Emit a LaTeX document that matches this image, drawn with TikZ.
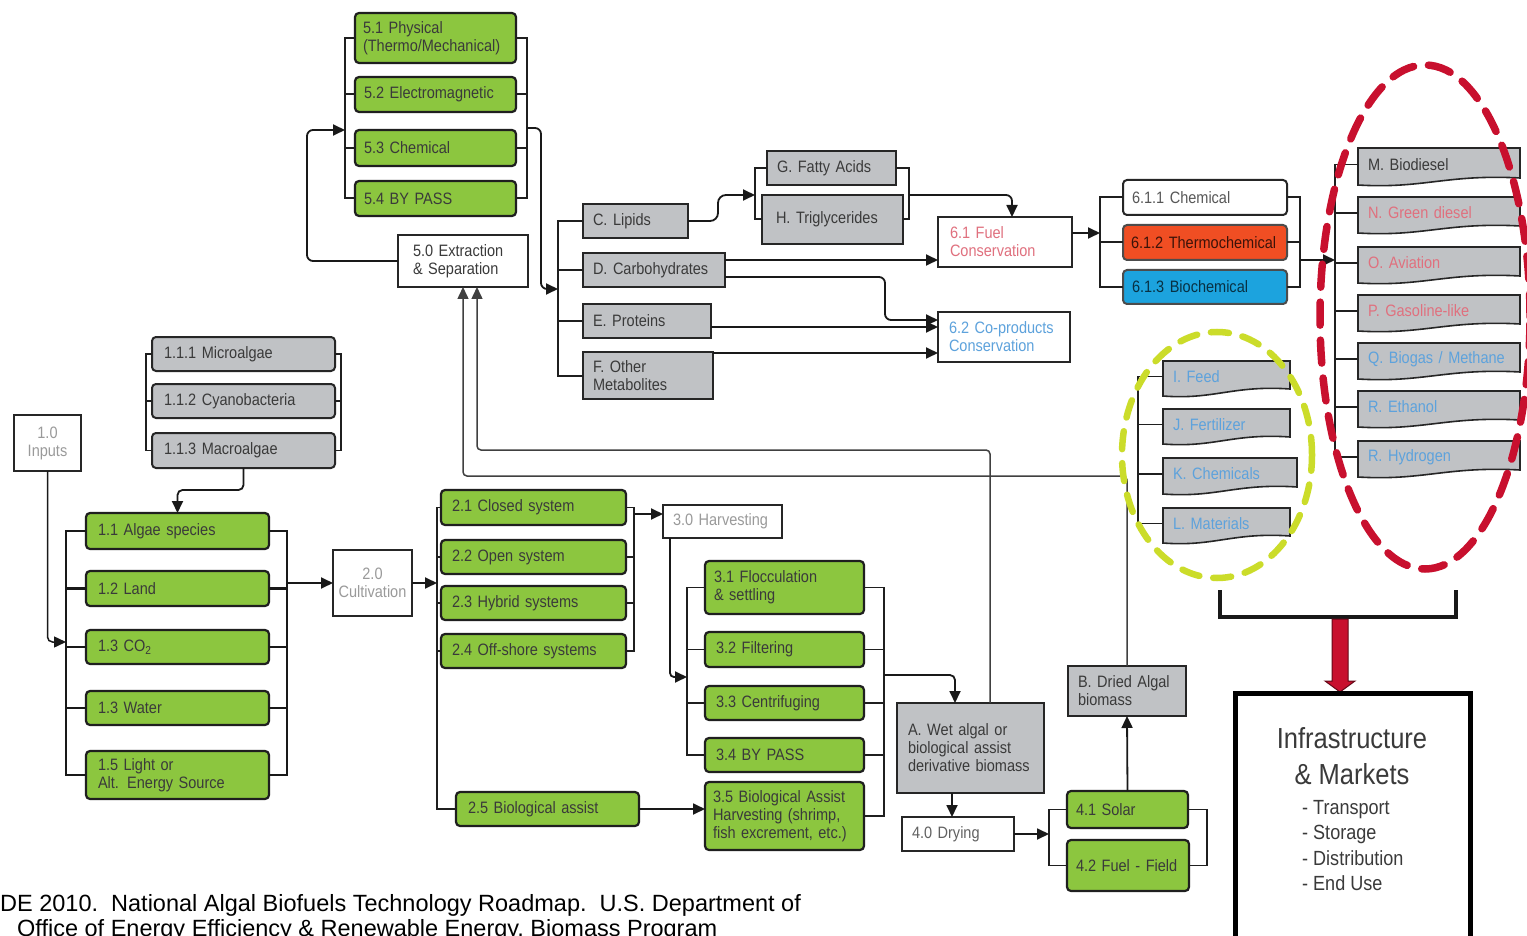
\documentclass[tikz,border=0pt]{standalone}
\usepackage{fontspec}
\setmainfont{Liberation Sans}
\newfontfamily\dfont{Liberation Sans}[FakeStretch=0.88]
\usetikzlibrary{arrows.meta,calc}
\definecolor{greenF}{HTML}{8CC63F}
\definecolor{grayF}{HTML}{C0C2C5}
\definecolor{pinkT}{HTML}{E0707E}
\definecolor{blueT}{HTML}{5DA2DC}
\definecolor{orangeF}{HTML}{F04E23}
\definecolor{cyanF}{HTML}{1CA3DE}
\definecolor{redD}{HTML}{C8102E}
\definecolor{yelD}{HTML}{CBDC2A}
\definecolor{lightT}{HTML}{9A9A9A}
\definecolor{darkT}{HTML}{3A3A3A}
\newcommand\df{\dfont\fontsize{16.5}{18}\selectfont}
\newcommand\bx[8]{%
  \pgfmathsetmacro\bxW{#4-#2}%
  \pgfmathsetmacro\bxH{#5-#3}%
  \pgfmathsetmacro\bxT{#4-#2-2*#7}%
  \node[anchor=north west, outer sep=0pt, inner xsep=#7pt, inner ysep=0pt,
        minimum width=\bxW pt, minimum height=\bxH pt, text width=\bxT pt,
        align=left, font=\df, #6] (#1) at (#2,#3) {#8};}
\newcommand\dc[7]{%
  \filldraw[fill=grayF, draw=black!85, line width=1.6pt]
    (#2,#3) -- (#4,#3) -- (#4,{#5-7})
    .. controls ({#2+0.55*(#4-#2)},{#5-11}) and ({#2+0.4*(#4-#2)},{#5+4}) .. (#2,#5) -- cycle;
  \bx{#1}{#2}{#3}{#4}{#5-4}{text=#6}{10}{#7}}
\begin{document}
\begin{tikzpicture}[x=1pt,y=-1pt,
  gbox/.style={draw=black!88, fill=greenF, rounded corners=4pt, line width=2.2pt, text=darkT},
  gybox/.style={draw=black!85, fill=grayF, line width=2pt, text=darkT},
  gyrbox/.style={gybox, rounded corners=4pt},
  wbox/.style={draw=black!85, fill=white, line width=1.6pt},
  wrbox/.style={wbox, rounded corners=4pt, line width=2pt, text=darkT!85},
  orbox/.style={draw=black!70, fill=orangeF, rounded corners=4pt, line width=2pt, text=black!75!orangeF},
  cybox/.style={draw=black!70, fill=cyanF, rounded corners=4pt, line width=2pt, text=black!70!cyanF},
  brk/.style={draw=black!88, line width=2pt},
  brk2/.style={draw=black!88, line width=1.7pt},
  brk3/.style={draw=black!90, line width=2.6pt},
  arr/.style={draw=black!90, line width=1.8pt, -{Triangle[length=12pt,width=11pt]}},
  arrL/.style={draw=black!75, line width=1.5pt, -{Triangle[length=12pt,width=11pt]}}]
\useasboundingbox (0,0) rectangle (1527,936);
\fill[white] (0,0) rectangle (1527,936);
\clip (0,0) rectangle (1527,936);

% ---- group 5
\bx{n51}{355}{13}{516}{63}{gbox}{8}{5.1 Physical\\(Thermo/Mechanical)}
\bx{n52}{355}{77}{516}{112}{gbox}{9}{5.2 Electromagnetic}
\bx{n53}{355}{130}{516}{166}{gbox}{9}{5.3 Chemical}
\bx{n54}{355}{181}{516}{216}{gbox}{9}{5.4 BY PASS}
\draw[brk] (n51.west) -- ++(-10,0) |- (n54.west);
\foreach \n in {n52,n53} \draw[brk] (\n.west) -- ++(-10,0);
\draw[brk] (n51.east) -- ++(11,0) |- (n54.east);
\foreach \n in {n52,n53} \draw[brk] (\n.east) -- ++(11,0);
\bx{n50}{398}{235}{528}{287}{wbox, text=darkT}{15}{5.0 Extraction\\\& Separation}
\coordinate (b5in) at (345,130);
\coordinate (b5out) at (527,128);
\coordinate (bCin) at (558,289);
\draw[arr, rounded corners=6pt] (n50.west) -- ++(-91,0) |- (b5in);
\draw[arr, rounded corners=6pt] (b5out) -- ++(14,0) |- (bCin);

% ---- C-F
\bx{nC}{583}{204}{688}{238}{gybox}{10}{C. Lipids}
\bx{nD}{583}{253}{725}{287}{gybox}{10}{D. Carbohydrates}
\bx{nE}{583}{304}{711}{338}{gybox}{10}{E. Proteins}
\bx{nF}{583}{352}{713}{399}{gybox}{10}{F. Other\\Metabolites}
\draw[brk] (nC.west) -- ++(-25,0) |- (nF.west);
\foreach \n in {nD,nE} \draw[brk] (\n.west) -- ++(-25,0);

% ---- G/H
\bx{nG}{767}{151}{896}{185}{gybox}{10}{G. Fatty Acids}
\bx{nH}{762}{195}{903}{244}{gybox}{14}{H. Triglycerides}
\coordinate (bGin) at (755,195);
\coordinate (bGout) at (909,195);
\draw[brk] (nG.west) -- (bGin |- nG.west) |- (nH.west);
\draw[arr, rounded corners=8pt] (nC.east) -- ++(30,0) |- (bGin);
\draw[brk] (nG.east) -- (bGout |- nG.east) -- (bGout |- nH.east) -- (nH.east);

% ---- 6.1 / 6.2
\bx{n61}{938}{217}{1072}{267}{wbox, text=pinkT}{12}{6.1 Fuel\\Conservation}
\bx{n62}{938}{312}{1070}{362}{wbox, text=blueT}{11}{6.2 Co-products\\Conservation}
\draw[arr, rounded corners=6pt] (bGout) -| ([xshift=7pt]n61.north);
\draw[arr] ([yshift=10pt]nD.east) coordinate (d1) -- (d1 -| n61.west);
\draw[arr, rounded corners=6pt] ([yshift=-7pt]nD.east) -- ++(160,0) |- ([yshift=17pt]n62.west);
\draw[arr] ([yshift=-6pt]nE.east) coordinate (e1) -- (e1 -| n62.west);
\draw[arr] ([yshift=-1pt]nF.north east) coordinate (f1) -- (f1 -| n62.west);

% ---- 6.1.x
\coordinate (b61in) at (1100,233);
\coordinate (b61out) at (1300,260);
\coordinate (bMin) at (1335,260);
\draw[arr] ([yshift=9pt]n61.east) -- (b61in);
\bx{n611}{1123}{180}{1287}{215}{wrbox}{9}{6.1.1 Chemical}
\bx{n612}{1123}{225}{1287}{260}{orbox}{8}{6.1.2 Thermochemical}
\bx{n613}{1123}{270}{1287}{304}{cybox}{9}{6.1.3 Biochemical}
\draw[brk] (n611.west) -- (b61in |- n611.west) |- (n613.west);
\draw[brk] (n612.west) -- (b61in |- n612.west);
\draw[brk] (n611.east) -- (b61out |- n611.east) |- (n613.east);
\draw[brk] (n612.east) -- (b61out |- n612.east);
\draw[arr] (b61out) -- (bMin);

% ---- M-R
\dc{nM}{1358}{148}{1520}{185}{darkT}{M. Biodiesel}
\dc{nN}{1358}{197}{1520}{233}{pinkT}{N. Green diesel}
\dc{nO}{1358}{247}{1520}{283}{pinkT}{O. Aviation}
\dc{nP}{1358}{295}{1520}{331}{pinkT}{P. Gasoline-like}
\dc{nQ}{1358}{343}{1520}{379}{blueT}{Q. Biogas / Methane}
\dc{nR}{1358}{391}{1520}{427}{blueT}{R. Ethanol}
\dc{nS}{1358}{441}{1520}{477}{blueT}{R. Hydrogen}
\draw[brk2] (nM.west) -- (bMin |- nM.west) |- (nS.west);
\foreach \n in {nN,nO,nP,nQ,nR} \draw[brk2] (\n.west) -- (bMin |- \n.west);

% ---- I-L
\coordinate (bI) at (1138,400);
\dc{nI}{1163}{361}{1290}{396}{blueT}{I. Feed}
\dc{nJ}{1163}{409}{1290}{444}{blueT}{J. Fertilizer}
\dc{nK}{1163}{458}{1297}{494}{blueT}{K. Chemicals}
\dc{nL}{1163}{508}{1290}{543}{blueT}{L. Materials}
\draw[brk2] (nI.west) -- (bI |- nI.west) |- (nL.west);
\foreach \n in {nJ,nK} \draw[brk2] (\n.west) -- (bI |- \n.west);

% ---- bracket + red arrow + infrastructure
\coordinate (kL) at (1220,590);
\coordinate (kR) at (1456,590);
\draw[line width=4pt, draw=black!90] (kL) -- ++(0,27) -| (kR);
\filldraw[fill=redD, draw=black!50!redD, line width=1pt]
  (1332,619) -- (1348,619) -- (1348,681) -- (1355,681) -- (1340,692) -- (1325,681) -- (1332,681) -- cycle;
\bx{nInf}{1235}{693}{1470}{960}{draw=black, line width=5pt}{0}{}
\node[font=\dfont\fontsize{29}{36}\selectfont, text=darkT, align=center] (tInf) at (1352,756) {Infrastructure\\\& Markets};
\node[font=\dfont\fontsize{20.5}{25.5}\selectfont, text=darkT, align=left, anchor=north west, inner sep=0pt] (lInf) at (1302,800) {- Transport\\- Storage\\- Distribution\\- End Use};

% ---- left section
\bx{n10}{14}{415}{81}{471}{wbox, text=lightT, align=center}{3}{1.0\\Inputs}
\coordinate (b1in) at (66,642);
\draw[arr, line width=1.5pt, rounded corners=5pt] (n10.south) |- (b1in);
\bx{n111}{152}{337}{335}{371}{gyrbox}{12}{1.1.1 Microalgae}
\bx{n112}{152}{384}{335}{418}{gyrbox}{12}{1.1.2 Cyanobacteria}
\bx{n113}{152}{433}{335}{468}{gyrbox}{12}{1.1.3 Macroalgae}
\draw[brk2] (n111.west) -- ++(-6,0) |- (n113.west);
\draw[brk2] (n112.west) -- ++(-6,0);
\draw[brk2] (n111.east) -- ++(6,0) |- (n113.east);
\draw[brk2] (n112.east) -- ++(6,0);
\bx{n11}{86}{513}{269}{549}{gbox}{12}{1.1 Algae species}
\bx{n12}{86}{571}{269}{606}{gbox}{12}{1.2 Land}
\bx{n13}{86}{630}{269}{664}{gbox}{12}{1.3 CO\textsubscript{2}}
\bx{n14}{86}{691}{269}{725}{gbox}{12}{1.3 Water}
\bx{n15}{86}{751}{269}{799}{gbox}{12}{1.5 Light or\\Alt. Energy Source}
\draw[arr, rounded corners=5pt] (n113.south) -- ++(0,22) -| (n11.north);
\coordinate (b1out) at (287,583);
\draw[brk3] (n11.west) -- (b1in |- n11.west) |- (n15.west);
\foreach \n in {n12,n13,n14} \draw[brk3] (\n.west) -- (b1in |- \n.west);
\draw[brk3] (n11.east) -- (b1out |- n11.east) |- (n15.east);
\foreach \n in {n12,n13,n14} \draw[brk3] (\n.east) -- (b1out |- \n.east);

% ---- cultivation
\bx{n20}{333}{550}{412}{616}{wbox, text=lightT, align=center}{3}{2.0\\Cultivation}
\draw[arr] (b1out) -- (b1out -| n20.west);
\coordinate (b2in) at (437,583);
\draw[arr] (n20.east) -- (b2in);
\bx{n21}{441}{490}{626}{525}{gbox}{11}{2.1 Closed system}
\bx{n22}{441}{540}{626}{574}{gbox}{11}{2.2 Open system}
\bx{n23}{441}{586}{626}{620}{gbox}{11}{2.3 Hybrid systems}
\bx{n24}{441}{634}{626}{668}{gbox}{11}{2.4 Off-shore systems}
\bx{n25}{456}{792}{639}{826}{gbox}{12}{2.5 Biological assist}
\draw[brk2] (n21.west) -- (b2in |- n21.west) |- (n25.west);
\foreach \n in {n22,n23,n24} \draw[brk2] (\n.west) -- (b2in |- \n.west);
\coordinate (b2out) at (634,514);
\draw[brk2] (n21.east) -- (b2out |- n21.east) |- (n24.east);
\foreach \n in {n22,n23} \draw[brk2] (\n.east) -- (b2out |- \n.east);

% ---- harvesting
\bx{n30}{663}{505}{782}{538}{wbox, text=lightT}{10}{3.0 Harvesting}
\draw[arr] (b2out) -- (b2out -| n30.west);
\coordinate (b3in) at (687,677);
\draw[arr, rounded corners=4pt] ([xshift=7pt]n30.south west) |- (b3in);
\bx{n31}{705}{561}{864}{614}{gbox}{9}{3.1 Flocculation\\\& settling}
\bx{n32}{705}{632}{864}{667}{gbox}{11}{3.2 Filtering}
\bx{n33}{705}{686}{864}{720}{gbox}{11}{3.3 Centrifuging}
\bx{n34}{705}{738}{864}{772}{gbox}{11}{3.4 BY PASS}
\bx{n35}{705}{782}{864}{850}{gbox}{8}{3.5 Biological Assist\\Harvesting (shrimp,\\fish excrement, etc.)}
\draw[brk2] (n31.west) -- (b3in |- n31.west) |- (n34.west);
\foreach \n in {n32,n33} \draw[brk2] (\n.west) -- (b3in |- \n.west);
\coordinate (b3out) at (884,675);
\draw[brk2] (n31.east) -- (b3out |- n31.east) |- (n35.east);
\foreach \n in {n32,n33,n34} \draw[brk2] (\n.east) -- (b3out |- \n.east);
\draw[arr] (n25.east) -- (n25.east -| n35.west);

% ---- A, drying, B
\bx{nA}{897}{703}{1044}{793}{gybox}{11}{A. Wet algal or\\biological assist\\derivative biomass}
\draw[arr, rounded corners=5pt] (b3out) -| ([xshift=-15.5pt]nA.north);
\bx{n40}{902}{817}{1014}{851}{wbox, text=darkT!80}{10}{4.0 Drying}
\draw[arr] ([xshift=-18.5pt]nA.south) coordinate (a1) -- (a1 |- n40.north);
\coordinate (b4in) at (1049,834);
\coordinate (b4out) at (1207,834);
\draw[arr] (n40.east) -- (b4in);
\bx{n41}{1067}{791}{1188}{828}{gbox}{9}{4.1 Solar}
\bx{n42}{1067}{840}{1189}{891}{gbox}{9}{4.2 Fuel - Field}
\draw[brk2] (n41.west) -- (b4in |- n41.west) |- (n42.west);
\draw[brk2] (n41.east) -- (b4out |- n41.east) |- (n42.east);
\bx{nB}{1068}{666}{1186}{716}{gybox}{10}{B. Dried Algal\\biomass}
\draw[arr] (n41.north) -- (nB.south);

% ---- long return lines to 5.0
\draw[arrL, rounded corners=4pt] (nB.north) -- ++(0,-190) -| (n50.south);
\draw[arrL, rounded corners=4pt] ([xshift=19.5pt]nA.north) -- ++(0,-253) -| ([xshift=14pt]n50.south);

% ---- dashed ellipses
\draw[yelD, line width=6.5pt, dash pattern=on 18pt off 14pt, line cap=round] (1217,455) ellipse [x radius=95pt, y radius=123pt];
\draw[redD, line width=7.5pt, dash pattern=on 23pt off 15pt, line cap=round] (1425,317) ellipse [x radius=105pt, y radius=252pt];

% ---- footnote
\node[anchor=base west, font=\fontsize{23.5}{26}\selectfont, inner sep=0pt] (ft1) at (0,911) {DE 2010.\ \ National Algal Biofuels Technology Roadmap.\ \ U.S. Department of};
\node[anchor=base west, font=\fontsize{23.5}{26}\selectfont, inner sep=0pt] (ft2) at (17,936) {Office of Energy Efficiency \& Renewable Energy, Biomass Program};
\end{tikzpicture}
\end{document}
